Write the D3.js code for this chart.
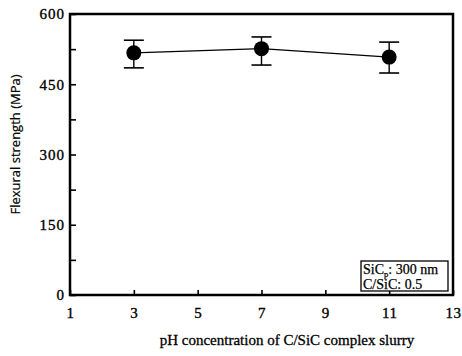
<!DOCTYPE html>
<html>
<head>
<meta charset="utf-8">
<script src="https://cdn.jsdelivr.net/npm/d3@7"></script>
<style>
  body { margin: 0; background: #fff; }
  svg { display: block; }
</style>
</head>
<body>
<svg id="chart" width="462" height="356"></svg>
<script>
// data
const ph = [3, 7, 11]
const strength = [517, 526, 508]
const errHigh = [544, 551, 540]
const errLow = [485, 491, 474]

const xTicks = [1, 3, 5, 7, 9, 11, 13]
const yTicks = [0, 150, 300, 450, 600]
const yMinor = [75, 225, 375, 525]

const margin = { top: 14, right: 9, bottom: 61, left: 70 }
const W = 462, H = 356
const svg = d3.select('#chart')

const x = d3.scaleLinear().domain([1, 13]).range([margin.left, W - margin.right])
const y = d3.scaleLinear().domain([0, 600]).range([H - margin.bottom, margin.top])

const serif = '"Liberation Serif", "Times New Roman", serif'

// 文字加粗一点，模仿扫描效果
const inkText = sel => sel
  .style('font-family', serif).attr('fill', '#000')
  .attr('stroke', '#000').attr('stroke-width', 0.35)

// 坐标轴
const xAxis = svg.append('g')
  .attr('transform', `translate(0,${y(0)})`)
  .call(d3.axisBottom(x).tickValues(xTicks).tickSizeInner(-5).tickSizeOuter(0).tickPadding(12))
xAxis.select('.domain').remove()
xAxis.selectAll('line').attr('stroke-width', 1.6)
xAxis.selectAll('text').call(inkText)
  .style('font-size', '15px').style('letter-spacing', '0.5px')

const yAxis = svg.append('g')
  .attr('transform', `translate(${x(1)},0)`)
  .call(d3.axisLeft(y).tickValues(yTicks).tickSizeInner(-6).tickSizeOuter(0).tickPadding(5))
yAxis.select('.domain').remove()
yAxis.selectAll('line').attr('stroke-width', 1.6)
yAxis.selectAll('text').call(inkText)
  .style('font-size', '15px').style('letter-spacing', '1px')

const yMinorAxis = svg.append('g')
  .attr('transform', `translate(${x(1)},0)`)
  .call(d3.axisLeft(y).tickValues(yMinor).tickSizeInner(-6).tickSizeOuter(0).tickFormat(''))
yMinorAxis.select('.domain').remove()
yMinorAxis.selectAll('line').attr('stroke-width', 1.6)

// 边框
svg.append('rect')
  .attr('x', x(1)).attr('y', y(600))
  .attr('width', x(13) - x(1)).attr('height', y(0) - y(600))
  .attr('fill', 'none').attr('stroke', '#000').attr('stroke-width', 2.5)

// 连线
const line = d3.line().x((d, i) => x(ph[i])).y(d => y(d))
svg.append('path')
  .datum(strength)
  .attr('d', line)
  .attr('fill', 'none').attr('stroke', '#000').attr('stroke-width', 1.2)

// 误差棒
const eb = svg.append('g').selectAll('g').data(ph).join('g')
eb.append('line')
  .attr('x1', d => x(d)).attr('x2', d => x(d))
  .attr('y1', (d, i) => y(errHigh[i])).attr('y2', (d, i) => y(errLow[i]))
  .attr('stroke', '#000').attr('stroke-width', 1.4)
eb.append('line')
  .attr('x1', d => x(d) - 10).attr('x2', d => x(d) + 10)
  .attr('y1', (d, i) => y(errHigh[i])).attr('y2', (d, i) => y(errHigh[i]))
  .attr('stroke', '#000').attr('stroke-width', 1.6)
eb.append('line')
  .attr('x1', d => x(d) - 10).attr('x2', d => x(d) + 10)
  .attr('y1', (d, i) => y(errLow[i])).attr('y2', (d, i) => y(errLow[i]))
  .attr('stroke', '#000').attr('stroke-width', 1.6)

// 数据点
svg.append('g').selectAll('circle').data(ph).join('circle')
  .attr('cx', d => x(d)).attr('cy', (d, i) => y(strength[i]))
  .attr('r', 7.5).attr('fill', '#000')

// 图例框
const lg = svg.append('g')
lg.append('rect')
  .attr('x', 361).attr('y', 261).attr('width', 87).attr('height', 30)
  .attr('fill', '#fff').attr('stroke', '#000').attr('stroke-width', 1.3)
const t1 = lg.append('text').attr('x', 363).attr('y', 274)
  .call(inkText).attr('stroke-width', 0.25).style('font-size', '14px')
t1.append('tspan').text('SiC')
t1.append('tspan').attr('dy', 2.5).style('font-size', '8.5px').text('p')
t1.append('tspan').attr('dy', -2.5).text(': 300 nm')
lg.append('text').attr('x', 363).attr('y', 289)
  .call(inkText).attr('stroke-width', 0.25).style('font-size', '14px')
  .text('C/SiC: 0.5')

// 轴标题
svg.append('text')
  .attr('x', 287).attr('y', 345)
  .attr('text-anchor', 'middle')
  .call(inkText).attr('stroke-width', 0.3).style('font-size', '15px')
  .text('pH concentration of C/SiC complex slurry')

svg.append('text')
  .attr('transform', `translate(20,${(y(0) + y(600)) / 2 - 10}) rotate(-90)`)
  .attr('text-anchor', 'middle')
  .style('font-family', '"Open Sans", sans-serif').style('font-size', '13px')
  .attr('fill', '#000').attr('stroke', '#000').attr('stroke-width', 0.2)
  .text('Flexural strength (MPa)')
</script>
</body>
</html>
